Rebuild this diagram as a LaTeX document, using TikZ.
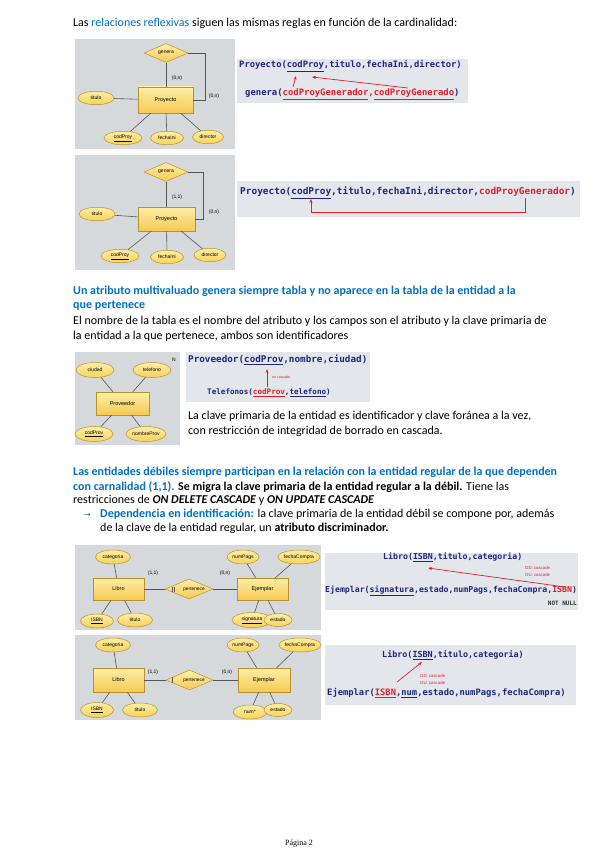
\documentclass[tikz,border=0pt]{standalone}
\usepackage{fontspec}
\setmainfont{Carlito}
\newfontfamily\ersf{Liberation Sans}
\newfontfamily\monof{DejaVu Sans Mono}
\newfontfamily\footf{Liberation Serif}
\newfontfamily\djv{DejaVu Sans}
\usetikzlibrary{shapes.geometric,arrows.meta}
\definecolor{hblue}{RGB}{0,112,192}
\definecolor{diagbg}{RGB}{214,217,220}
\definecolor{schbg}{RGB}{227,230,235}
\definecolor{navy}{RGB}{30,38,125}
\definecolor{rred}{RGB}{225,30,40}
\definecolor{ylight}{RGB}{253,238,165}
\definecolor{ydark}{RGB}{246,202,85}
\definecolor{yatt}{RGB}{247,210,90}
\definecolor{yline}{RGB}{185,145,45}
\definecolor{linegray}{RGB}{85,85,85}
\newcommand{\msz}[1]{\fontsize{#1}{#1}\selectfont}
\begin{document}
\begin{tikzpicture}[x=1pt,y=-1pt,
  txt/.style={anchor=base west,inner sep=0pt,font=\fontsize{12}{14}\selectfont},
  btxt/.style={anchor=base west,inner sep=0pt,font=\fontsize{12}{14}\selectfont\bfseries,text=hblue},
  mono/.style={anchor=west,inner sep=0pt,text=navy},
  diag/.style={fill=diagbg},
  sch/.style={fill=schbg},
  ent/.style={rectangle,draw=yline,line width=0.5pt,top color=ylight,bottom color=ydark,font=\ersf\msz{5.5},inner sep=0pt},
  att/.style={ellipse,draw=yline,line width=0.5pt,top color=ylight,bottom color=yatt,font=\ersf\msz{5},inner sep=0pt,minimum width=34pt,minimum height=13.5pt},
  rel/.style={diamond,draw=yline,line width=0.5pt,top color=ylight,bottom color=ydark,font=\ersf\msz{5},inner sep=0pt,minimum width=44pt,minimum height=19pt,aspect=2.3},
  erl/.style={draw=linegray,line width=0.6pt},
  card/.style={font=\ersf\msz{5},inner sep=0pt},
  rarrow/.style={draw=rred,line width=0.7pt,-{Stealth[length=4pt,width=3pt]}},
  rsmall/.style={anchor=west,inner sep=0pt,text=rred,font=\ersf\msz{4.3}},
]
\useasboundingbox (0,0) rectangle (599,848);
\fill[white] (0,0) rectangle (599,848);

% ---------- intro line
\node[txt] (t1) at (73,27) {Las \textcolor{hblue}{relaciones reflexivas} siguen las mismas reglas en función de la cardinalidad:};

% ---------- diagram 1
\fill[diag] (75,39) rectangle (235,149);
\node[rel] (g1) at (166,53) {genera};
\node[ent,minimum width=55pt,minimum height=26pt] (p1) at (165.5,100) {Proyecto};
\node[att,minimum width=36pt] (a1t) at (96,98) {titulo};
\node[att,minimum width=38pt] (a1c) at (123,138) {\underline{codProy}};
\node[att,minimum width=33pt] (a1f) at (167,138) {fechaIni};
\node[att,minimum width=31pt] (a1d) at (208,137) {director};
\coordinate (r1) at (205,100);
\draw[erl] (g1.south) -- (g1.south |- p1.north);
\draw[erl] (g1.east) -| (r1) -- (p1.east);
\draw[erl] (a1t) -- (p1);
\draw[erl] (a1c) -- (p1);
\draw[erl] (a1f) -- (p1);
\draw[erl] (a1d) -- (p1);
\node[card] (c1a) at (177,78) {(0,n)};
\node[card] (c1b) at (214,96) {(0,n)};

% ---------- schema 1
\fill[sch] (237,59) rectangle (468,103);
\node[mono,font=\monof\bfseries\msz{8.8}] (s1a) at (239,66) {Proyecto(\underline{codProy},titulo,fechaIni,director)};
\node[mono,font=\monof\bfseries\msz{8.9}] (s1b) at (245,94) {genera(\textcolor{rred}{\underline{codProyGenerador},\underline{codProyGenerado}})};
\coordinate (s1p) at (293,87); \coordinate (s1q) at (296,76);
\coordinate (s1r) at (408,88); \coordinate (s1s) at (312,77);
\draw[rarrow] (s1p) -- (s1q);
\draw[rarrow] (s1r) -- (s1s);

% ---------- diagram 2
\fill[diag] (75,155) rectangle (235,270);
\node[rel] (g2) at (166,172) {genera};
\node[ent,minimum width=57pt,minimum height=24pt] (p2) at (166.5,219) {Proyecto};
\node[att,minimum width=36pt] (a2t) at (97,214) {titulo};
\node[att,minimum width=38pt] (a2c) at (120,256) {\underline{codProy}};
\node[att,minimum width=33pt] (a2f) at (167,257) {fechaIni};
\node[att,minimum width=32pt] (a2d) at (210,255) {director};
\coordinate (r2) at (203,219);
\draw[erl] (g2.south) -- (g2.south |- p2.north);
\draw[erl] (g2.east) -| (r2) -- (p2.east);
\draw[erl] (a2t) -- (p2);
\draw[erl] (a2c) -- (p2);
\draw[erl] (a2f) -- (p2);
\draw[erl] (a2d) -- (p2);
\node[card] (c2a) at (177,197) {(1,1)};
\node[card] (c2b) at (214,212) {(0,n)};

% ---------- schema 2
\fill[sch] (237,181) rectangle (580,217);
\node[mono,font=\monof\bfseries\msz{9.45}] (s2a) at (240,193) {Proyecto(\underline{codProy},titulo,fechaIni,director,\textcolor{rred}{codProyGenerador})};
\coordinate (s2p) at (525,198); \coordinate (s2q) at (311,212); \coordinate (s2r) at (311,199);
\draw[rarrow] (s2p) |- (s2q) -- (s2r);

% ---------- multivaluado text
\node[btxt] (h1) at (73,294) {Un atributo multivaluado genera siempre tabla y no aparece en la tabla de la entidad a la};
\node[btxt] (h2) at (73,308) {que pertenece};
\node[txt] (b1) at (73,324) {El nombre de la tabla es el nombre del atributo y los campos son el atributo y la clave primaria de};
\node[txt] (b2) at (73,339) {la entidad a la que pertenece, ambos son identificadores};

% ---------- proveedor diagram
\fill[diag] (75,352) rectangle (180,445);
\node[ent,minimum width=53pt,minimum height=23pt] (pv) at (122.5,403.5) {Proveedor};
\node[att,minimum width=38pt,minimum height=15pt] (av1) at (95,370) {ciudad};
\node[att,minimum width=38pt,minimum height=15pt] (av2) at (152,370) {telefono};
\node[att,minimum width=38pt,minimum height=15pt] (av3) at (94,434) {\underline{codProv}};
\node[att,minimum width=40pt,minimum height=15pt] (av4) at (146,434) {nombreProv};
\draw[erl] (av1) -- (pv);
\draw[erl] (av2) -- (pv);
\draw[erl] (av3) -- (pv);
\draw[erl] (av4) -- (pv);
\node[card] (nN) at (174,360) {N};

% ---------- schema 3
\fill[sch] (186,352) rectangle (370,402);
\node[mono,font=\monof\bfseries\msz{9.3}] (s3a) at (188,360) {Proveedor(\underline{codProv},nombre,ciudad)};
\node[mono,font=\monof\bfseries\msz{7.6}] (s3b) at (207,393) {Telefonos(\textcolor{rred}{\underline{codProv}},\underline{telefono})};
\coordinate (s3p) at (267,387); \coordinate (s3q) at (267,369);
\draw[rarrow] (s3p) -- (s3q);
\node[rsmall,font=\ersf\msz{3.5}] (s3c) at (272,377) {on cascade};
\node[txt] (b3) at (188,419) {La clave primaria de la entidad es identificador y clave foránea a la vez,};
\node[txt] (b4) at (188,434) {con restricción de integridad de borrado en cascada.};

% ---------- weak entity text
\node[btxt] (w1) at (73,475) {Las entidades débiles siempre participan en la relación con la entidad regular de la que dependen};
\node[txt] (w2) at (73,490) {\textcolor{hblue}{\bfseries con carnalidad (1,1).} \textbf{Se migra la clave primaria de la entidad regular a la débil.} Tiene las};
\node[txt] (w3) at (73,503) {restricciones de \textbf{\textit{ON DELETE CASCADE}} y \textbf{\textit{ON UPDATE CASCADE}}};
\node[txt,font=\djv\msz{8},text=hblue] (w4a) at (84,517) {→};
\node[txt] (w4) at (100,517) {\textcolor{hblue}{\bfseries Dependencia en identificación:} la clave primaria de la entidad débil se compone por, además};
\node[txt] (w5) at (100,531) {de la clave de la entidad regular, un \textbf{atributo discriminador.}};

% ---------- libro diagram 1
\fill[diag] (75,545) rectangle (321,630);
\node[ent,minimum width=51pt,minimum height=22pt] (l1) at (118.5,589) {Libro};
\node[ent,minimum width=51pt,minimum height=22pt] (e1) at (262.5,589) {Ejemplar};
\node[rel,minimum width=48pt,minimum height=20pt] (r3) at (189,589) {};
\node[card,font=\ersf\msz{4.8}] (r3t) at (194,589) {pertenece};
\draw[erl,line width=0.5pt] (172,586.5) -- (172,591.5);
\draw[erl,line width=0.5pt] (174,586.5) -- (174,591.5);
\node[att,minimum width=35pt,minimum height=14pt] (b1c) at (113,557) {categoria};
\node[att,minimum width=33pt,minimum height=14pt] (b1i) at (97,621) {\underline{ISBN}};
\node[att,minimum width=35pt,minimum height=14pt] (b1t) at (135,620) {titulo};
\node[att,minimum width=32pt,minimum height=14pt] (b1n) at (243,557) {numPags};
\node[att,minimum width=42pt,minimum height=14pt] (b1f) at (299,557) {fechaCompra};
\node[att,minimum width=40pt,minimum height=15pt] (b1s) at (252,620) {\underline{signatura}};
\node[att,minimum width=28pt,minimum height=13pt] (b1e) at (278,620) {estado};
\draw[erl] (b1c) -- (l1);
\draw[erl] (b1i) -- (l1);
\draw[erl] (b1t) -- (l1);
\draw[erl] (l1) -- (r3);
\draw[erl] (r3) -- (e1);
\draw[erl] (b1n) -- (e1);
\draw[erl] (b1f) -- (e1);
\draw[erl] (b1s) -- (e1);
\draw[erl] (b1e) -- (e1);
\node[card] (c3a) at (153,573) {(1,1)};
\node[card] (c3b) at (225,573) {(0,n)};

% ---------- schema 4
\fill[sch] (325,553) rectangle (578,610);
\node[mono,font=\monof\bfseries\msz{8.25}] (s4a) at (383,557) {Libro(\underline{ISBN},titulo,categoria)};
\node[mono,font=\monof\bfseries\msz{8.2}] (s4b) at (325,591) {Ejemplar(\underline{signatura},estado,numPags,fechaCompra,\textcolor{rred}{ISBN})};
\node[anchor=east,inner sep=0pt,font=\monof\bfseries\msz{6},text=black!80] (s4n) at (577,603) {NOT NULL};
\node[rsmall] (s4c) at (525,568) {OD: cascade};
\node[rsmall] (s4d) at (525,575) {OU: cascade};
\coordinate (s4p) at (565,587); \coordinate (s4q) at (428,568);
\draw[rarrow] (s4p) -- (s4q);

% ---------- libro diagram 2
\fill[diag] (75,635) rectangle (321,720);
\node[ent,minimum width=51pt,minimum height=24pt] (l2) at (118.5,680) {Libro};
\node[ent,minimum width=52pt,minimum height=24pt] (e2) at (264,680) {Ejemplar};
\node[rel,minimum width=47pt,minimum height=20pt] (r4) at (189.5,680) {};
\node[card,font=\ersf\msz{4.8}] (r4t) at (194,680) {pertenece};
\draw[erl,line width=0.5pt] (172,677) -- (172,683);
\node[att,minimum width=35pt,minimum height=14pt] (b2c) at (113,645) {categoria};
\node[att,minimum width=33pt,minimum height=15pt] (b2i) at (97,710) {\underline{ISBN}};
\node[att,minimum width=35pt,minimum height=14pt] (b2t) at (140,710) {titulo};
\node[att,minimum width=32pt,minimum height=14pt] (b2n) at (243,645) {numPags};
\node[att,minimum width=42pt,minimum height=14pt] (b2f) at (300,645) {fechaCompra};
\node[att,minimum width=34pt,minimum height=14pt] (b2s) at (250,712) {num*};
\node[att,minimum width=28pt,minimum height=13pt] (b2e) at (278,710) {estado};
\draw[erl] (b2c) -- (l2);
\draw[erl] (b2i) -- (l2);
\draw[erl] (b2t) -- (l2);
\draw[erl] (l2) -- (r4);
\draw[erl] (r4) -- (e2);
\draw[erl] (b2n) -- (e2);
\draw[erl] (b2f) -- (e2);
\draw[erl] (b2s) -- (e2);
\draw[erl] (b2e) -- (e2);
\node[card] (c4a) at (153,672) {(1,1)};
\node[card] (c4b) at (227,672) {(0,n)};

% ---------- schema 5
\fill[sch] (325,645) rectangle (576,705);
\node[mono,font=\monof\bfseries\msz{8.4}] (s5a) at (382,655) {Libro(\underline{ISBN},titulo,categoria)};
\node[mono,font=\monof\bfseries\msz{8.8}] (s5b) at (327,693) {Ejemplar(\textcolor{rred}{\underline{ISBN}},\underline{num},estado,numPags,fechaCompra)};
\node[rsmall] (s5c) at (420,676) {OD: cascade};
\node[rsmall] (s5d) at (420,683) {OU: cascade};
\coordinate (s5p) at (397,682); \coordinate (s5q) at (422,662);
\draw[rarrow] (s5p) -- (s5q);

% ---------- footer
\node[anchor=base,inner sep=0pt,font=\footf\msz{8}] (ft) at (299,845) {Página 2};
\end{tikzpicture}
\end{document}
